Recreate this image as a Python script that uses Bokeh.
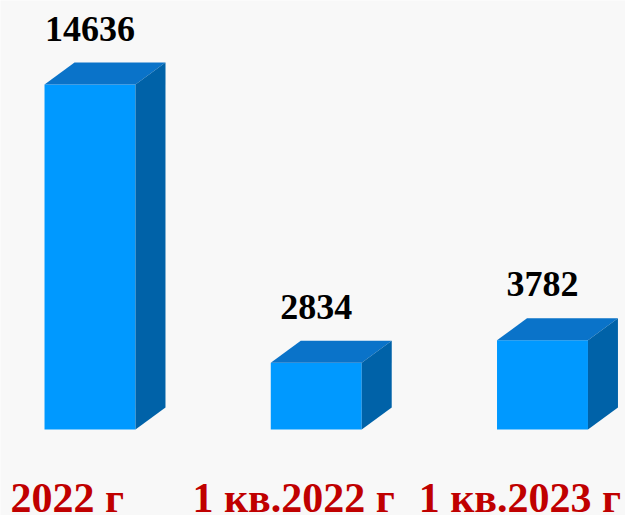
from bokeh.plotting import figure
from bokeh.models import Range1d, ColumnDataSource
from bokeh.embed import file_html
from bokeh.resources import INLINE
from bokeh.core.properties import value

categories = ["2022 г", "1 кв.2022 г", "1 кв.2023 г"]
values = [14636, 2834, 3782]

FRONT = "#0099FF"
TOP = "#0A73C9"
SIDE = "#0062A8"
BG = "#F8F8F8"

xs_pos = [0, 1, 2]
w = 0.402          # front face width in category units
dx = 0.1326        # depth offset (x)
dy = 933           # depth offset (value units)

p = figure(width=625, height=515, output_backend="svg", toolbar_location=None,
           x_range=Range1d(-0.3956, 2.3669), y_range=Range1d(-3648, 18200),
           min_border=0)
p.axis.visible = False
p.grid.visible = False
p.outline_line_color = None
p.background_fill_color = BG
p.border_fill_color = BG

left = [x - w / 2 for x in xs_pos]
right = [x + w / 2 for x in xs_pos]

# front faces
p.quad(left=left, right=right, bottom=[0] * 3, top=values, fill_color=FRONT, line_color=None)

# top faces
top_xs = [[l, l + dx, r + dx, r] for l, r in zip(left, right)]
top_ys = [[v, v + dy, v + dy, v] for v in values]
p.patches(top_xs, top_ys, fill_color=TOP, line_color=None)

# side faces
side_xs = [[r, r, r + dx, r + dx] for r in right]
side_ys = [[0, v, v + dy, dy] for v in values]
p.patches(side_xs, side_ys, fill_color=SIDE, line_color=None)

# value labels
lab_src = ColumnDataSource(dict(x=[x for x in xs_pos],
                                y=[v + dy + 1440 for v in values],
                                t=[str(v) for v in values]))
p.text(x="x", y="y", text="t", source=lab_src, text_align="center", text_baseline="alphabetic",
       text_font=value("Liberation Serif"), text_font_style="bold", text_font_size="36px",
       text_color="black")

# category labels
cat_src = ColumnDataSource(dict(x=[x - 0.10 for x in xs_pos], y=[-2900] * 3, t=categories))
p.text(x="x", y="y", text="t", source=cat_src, text_align="center", text_baseline="alphabetic",
       text_font=value("Liberation Serif"), text_font_style="bold", text_font_size="42px",
       text_color="#C00000")

html = file_html(p, INLINE)
open("out.html", "w").write(html)
